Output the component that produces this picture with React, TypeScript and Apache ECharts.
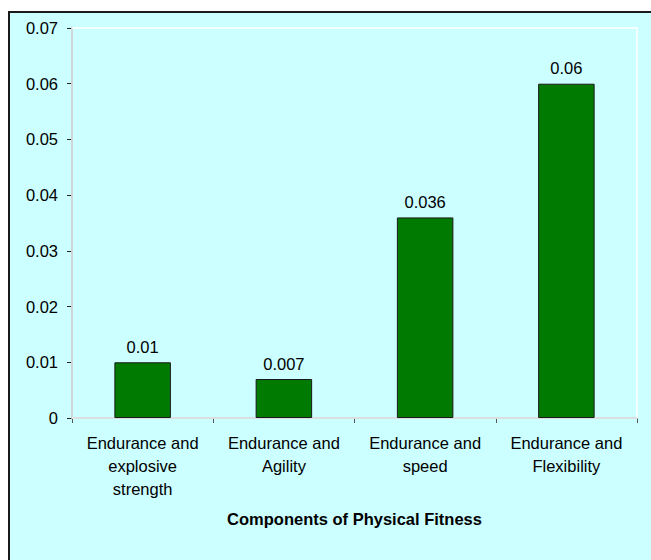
import React, { useEffect, useRef } from "react";
import * as echarts from "echarts";

// Fitness component pairs and their values
const categories = [
  "Endurance and\nexplosive\nstrength",
  "Endurance and\nAgility",
  "Endurance and\nspeed",
  "Endurance and\nFlexibility",
];
const values = [0.01, 0.007, 0.036, 0.06];
const valueLabels = ["0.01", "0.007", "0.036", "0.06"];
const yTickLabels = ["0", "0.01", "0.02", "0.03", "0.04", "0.05", "0.06", "0.07"];

const FONT = "'Liberation Sans', Arial, sans-serif";
const FS = 16.5;

export default function App() {
  const ref = useRef<HTMLDivElement>(null);

  useEffect(() => {
    if (!ref.current) return;
    const chart = echarts.init(ref.current, null, { renderer: "svg" });
    chart.setOption({
      animation: false,
      backgroundColor: "#ffffff",
      textStyle: { fontFamily: FONT },
      graphic: [
        {
          type: "rect",
          z: -10,
          shape: { x: 9, y: 12, width: 660, height: 570 },
          style: { fill: "#CCFFFF", stroke: "#1a1a1a", lineWidth: 2 },
          silent: true,
        },
      ],
      grid: {
        left: 72,
        right: 14,
        top: 28,
        bottom: 142,
        show: true,
        backgroundColor: "transparent",
        borderColor: "#ffffff",
        borderWidth: 1.5,
        z: 1,
      },
      xAxis: {
        type: "category",
        data: categories,
        name: "Components of Physical Fitness",
        nameLocation: "middle",
        nameGap: 92,
        nameTextStyle: {
          fontFamily: FONT,
          fontSize: FS,
          fontWeight: "bold",
          color: "#000",
        },
        axisLine: { lineStyle: { color: "#555", width: 1.5 } },
        axisTick: { show: true, length: 5, lineStyle: { color: "#555" } },
        axisLabel: {
          fontFamily: FONT,
          fontSize: FS,
          lineHeight: 23,
          color: "#000",
          margin: 13,
          interval: 0,
        },
      },
      yAxis: {
        type: "value",
        min: 0,
        max: 0.07,
        interval: 0.01,
        axisLine: { show: true, lineStyle: { color: "#222", width: 1.5 } },
        axisTick: { show: true, length: 5, lineStyle: { color: "#222" } },
        splitLine: { show: false },
        axisLabel: {
          fontFamily: FONT,
          fontSize: FS,
          color: "#000",
          margin: 14,
          formatter: (v: number) => yTickLabels[Math.round(v * 100)] ?? String(v),
        },
      },
      series: [
        {
          type: "bar",
          data: values,
          barWidth: "40%",
          itemStyle: {
            color: "#007A00",
            borderColor: "#1a1a1a",
            borderWidth: 1,
          },
          label: {
            show: true,
            position: "top",
            distance: 7,
            fontFamily: FONT,
            fontSize: FS,
            color: "#000",
            formatter: (p: any) => valueLabels[p.dataIndex],
          },
        },
      ],
    });
    return () => chart.dispose();
  }, []);

  return (
    <div
      ref={ref}
      style={{ position: "fixed", left: 0, top: 0, width: 651, height: 560 }}
    />
  );
}
